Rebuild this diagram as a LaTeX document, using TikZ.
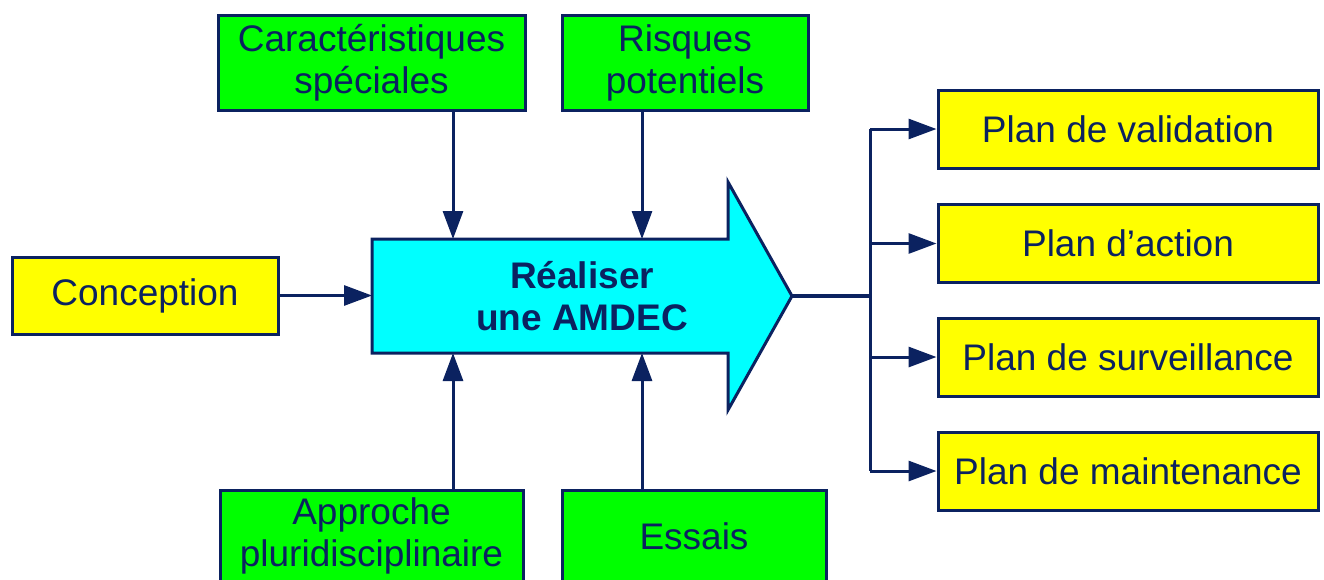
\documentclass[tikz,border=0pt]{standalone}
\usepackage{fontspec}
\setmainfont{Liberation Sans}
\usetikzlibrary{arrows.meta}
\definecolor{navy}{HTML}{0B2260}
\definecolor{boxgreen}{HTML}{00FF00}
\definecolor{boxyellow}{HTML}{FFFF00}
\definecolor{boxcyan}{HTML}{00FFFF}
\tikzset{
  box/.style={draw=navy, line width=3pt, text=navy, align=center, inner sep=0pt,
    font=\fontsize{37}{42}\selectfont},
  greenbox/.style={box, fill=boxgreen},
  yellowbox/.style={box, fill=boxyellow, minimum width=380pt, minimum height=78pt},
  link/.style={draw=navy, line width=3pt, -{Triangle[length=28pt,width=20pt]}},
  trunk/.style={draw=navy, line width=3pt},
}
\begin{document}
\begin{tikzpicture}[x=1pt,y=-1pt]
\useasboundingbox (0,0) rectangle (1324,579);
\clip (0,0) rectangle (1324,579);

% big process arrow
\draw[navy, line width=3pt, fill=boxcyan]
  (372,239) -- (728,239) -- (728,182) -- (792,296) -- (728,410) -- (728,353) -- (372,353) -- cycle;
\node[text=navy, align=center, font=\fontsize{37}{42}\selectfont\bfseries] (amdec) at (582,296) {Réaliser\\une AMDEC};
\coordinate (inL) at (372,295.5);
\coordinate (t1) at (453,239);
\coordinate (t2) at (642,239);
\coordinate (b1) at (453,353);
\coordinate (b2) at (642,353);
\coordinate (tip) at (792,296);
\coordinate (fork) at (870,296);

% inputs
\node[box, fill=boxyellow, minimum width=266pt, minimum height=77pt] (conc) at (145,295.5) {Conception};
\node[greenbox, minimum width=307pt, minimum height=95pt] (car) at (371.5,62.5) {Caractéristiques\\spéciales};
\node[greenbox, minimum width=246pt, minimum height=95pt] (ris) at (685,62.5) {Risques\\potentiels};
\node[greenbox, minimum width=303pt, minimum height=92pt] (app) at (371.5,536) {Approche\\pluridisciplinaire};
\node[greenbox, minimum width=264pt, minimum height=92pt] (ess) at (694,536) {Essais};

% outputs
\node[yellowbox] (pv) at (1128,129) {Plan de validation};
\node[yellowbox] (pa) at (1128,243.5) {Plan d’action};
\node[yellowbox] (ps) at (1128,357) {Plan de surveillance};
\node[yellowbox] (pm) at (1128,471) {Plan de maintenance};

% input connectors
\draw[link] (conc.east) -- (inL);
\draw[link] (car.south -| t1) -- (t1);
\draw[link] (ris.south -| t2) -- (t2);
\draw[link] (app.north -| b1) -- (b1);
\draw[link] (ess.north -| b2) -- (b2);

% output connectors
\draw[navy, line width=4.5pt] (tip) -- (fork);
\draw[trunk] (fork |- pv.west) -- (fork |- pm.west);
\draw[link] (fork |- pv.west) -- (pv.west);
\draw[link] (fork |- pa.west) -- (pa.west);
\draw[link] (fork |- ps.west) -- (ps.west);
\draw[link] (fork |- pm.west) -- (pm.west);
\end{tikzpicture}
\end{document}
